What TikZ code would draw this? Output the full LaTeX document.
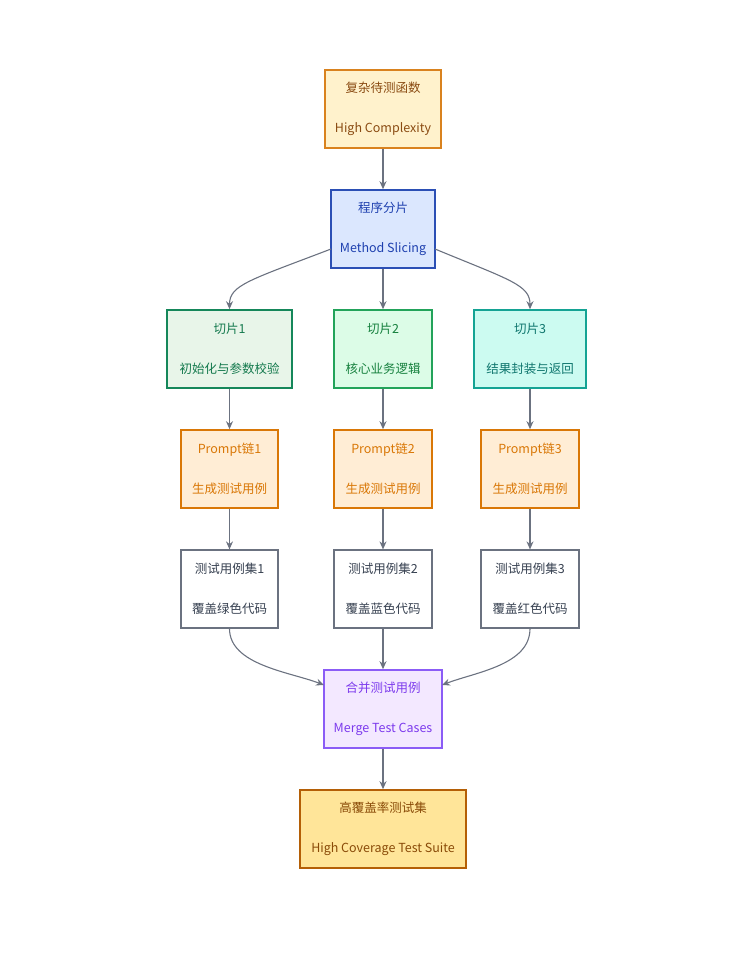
\documentclass[tikz,border=0pt]{standalone}
\usepackage{fontspec}
\setmainfont{Noto Sans CJK SC}
\usetikzlibrary{arrows.meta}
\definecolor{arr}{HTML}{6B7280}
\definecolor{yF}{HTML}{FFF2CC}\definecolor{yD}{HTML}{D9821E}\definecolor{yT}{HTML}{8A4B12}
\definecolor{bF}{HTML}{DBE7FE}\definecolor{bD}{HTML}{2B4FB5}\definecolor{bT}{HTML}{1E40AF}
\definecolor{g1F}{HTML}{E8F5E9}\definecolor{g1D}{HTML}{15875A}\definecolor{g1T}{HTML}{157A4E}
\definecolor{g2F}{HTML}{DCFCE7}\definecolor{g2D}{HTML}{22A35A}\definecolor{g2T}{HTML}{15803D}
\definecolor{tF}{HTML}{CCFBF1}\definecolor{tD}{HTML}{14A394}\definecolor{tT}{HTML}{0F766E}
\definecolor{pF}{HTML}{FFEDD5}\definecolor{pD}{HTML}{D97706}\definecolor{pT}{HTML}{D97706}
\definecolor{tsD}{HTML}{6B7280}\definecolor{tsT}{HTML}{374151}
\definecolor{mF}{HTML}{F3E8FF}\definecolor{mD}{HTML}{8B5CF6}\definecolor{mT}{HTML}{7C3AED}
\definecolor{fF}{HTML}{FFE599}\definecolor{fD}{HTML}{B45F06}\definecolor{fT}{HTML}{8A4B08}
\tikzset{
  box/.style={draw, line width=1.6pt, minimum height=78pt, align=center, inner sep=0pt,
    font=\fontsize{12.5}{15}\selectfont},
  yel/.style={box, fill=yF, draw=yD, text=yT},
  blu/.style={box, fill=bF, draw=bD, text=bT},
  grA/.style={box, fill=g1F, draw=g1D, text=g1T},
  grB/.style={box, fill=g2F, draw=g2D, text=g2T},
  tea/.style={box, fill=tF, draw=tD, text=tT},
  prm/.style={box, fill=pF, draw=pD, text=pT},
  tst/.style={box, fill=white, draw=tsD, line width=1.2pt, text=tsT},
  pur/.style={box, fill=mF, draw=mD, text=mT},
  fin/.style={box, fill=fF, draw=fD, text=fT},
  ar/.style={draw=arr, line width=1.1pt, -{Stealth[length=8pt,width=7pt]}}
}
\newcommand{\tl}[2]{#1\\[25pt]#2}
\begin{document}
\begin{tikzpicture}[x=1pt,y=-1pt]
\useasboundingbox (0,0) rectangle (747,975);
\node[yel, minimum width=116pt] (a) at (383,109) {\tl{复杂待测函数}{High Complexity}};
\node[blu, minimum width=104pt] (b) at (383,229) {\tl{程序分片}{Method Slicing}};
\node[grA, minimum width=125pt] (s1) at (229.5,349) {\tl{切片1}{初始化与参数校验}};
\node[grB, minimum width=98pt] (s2) at (383,349) {\tl{切片2}{核心业务逻辑}};
\node[tea, minimum width=112pt] (s3) at (530,349) {\tl{切片3}{结果封装与返回}};
\node[prm, minimum width=97pt] (p1) at (229.5,469) {\tl{Prompt链1}{生成测试用例}};
\node[prm, minimum width=98pt] (p2) at (383,469) {\tl{Prompt链2}{生成测试用例}};
\node[prm, minimum width=98pt] (p3) at (530,469) {\tl{Prompt链3}{生成测试用例}};
\node[tst, minimum width=97pt] (t1) at (229.5,589) {\tl{测试用例集1}{覆盖绿色代码}};
\node[tst, minimum width=98pt] (t2) at (383,589) {\tl{测试用例集2}{覆盖蓝色代码}};
\node[tst, minimum width=98pt] (t3) at (530,589) {\tl{测试用例集3}{覆盖红色代码}};
\node[pur, minimum width=118pt] (m) at (383,709) {\tl{合并测试用例}{Merge Test Cases}};
\node[fin, minimum width=166pt] (f) at (383,829) {\tl{高覆盖率测试集}{High Coverage Test Suite}};
\coordinate (bl) at (331,249);
\coordinate (br) at (435,249);
\coordinate (ml) at (324,685);
\coordinate (mr) at (442,685);
\draw[ar] (a) -- (b);
\draw[ar] (bl) .. controls (250,280) and (229.5,285) .. (s1.north);
\draw[ar] (b) -- (s2);
\draw[ar] (br) .. controls (510,280) and (530,285) .. (s3.north);
\draw[ar] (s1) -- (p1); \draw[ar] (s2) -- (p2); \draw[ar] (s3) -- (p3);
\draw[ar] (p1) -- (t1); \draw[ar] (p2) -- (t2); \draw[ar] (p3) -- (t3);
\draw[ar] (t1.south) .. controls (229.5,665) and (290,672) .. (ml);
\draw[ar] (t2) -- (m);
\draw[ar] (t3.south) .. controls (530,665) and (476,672) .. (mr);
\draw[ar] (m) -- (f);
\end{tikzpicture}
\end{document}
